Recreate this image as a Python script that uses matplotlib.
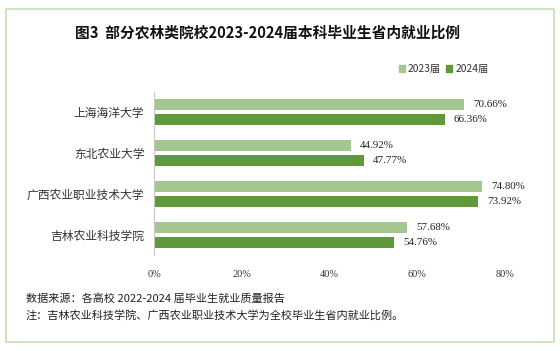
import matplotlib.pyplot as plt
import numpy as np
from matplotlib.patches import Rectangle, Patch

plt.rcParams['font.family'] = ['Noto Sans CJK SC', 'DejaVu Sans']

# Data
schools = ['上海海洋大学', '东北农业大学', '广西农业职业技术大学', '吉林农业科技学院']
rate_2023 = [70.66, 44.92, 74.80, 57.68]
rate_2024 = [66.36, 47.77, 73.92, 54.76]
x_ticks = [0, 20, 40, 60, 80]
series_names = ['2023届', '2024届']

c_light = '#a4c791'
c_dark = '#5f993c'
W, H = 560, 351

fig = plt.figure(figsize=(W / 100, H / 100), dpi=100)

# outer green frame
fig.patches.append(Rectangle((6 / W, 9 / H), 548 / W, 333 / H, transform=fig.transFigure,
                             fill=False, ec='#c5e2b2', lw=1.2))

ax = fig.add_axes([154 / W, 1 - 255 / H, (505 - 154) / W, (255 - 92) / H])

y = np.arange(len(schools))
off = 0.183
h = 0.27
b1 = ax.barh(y - off, rate_2023, height=h, color=c_light)
b2 = ax.barh(y + off, rate_2024, height=h, color=c_dark)

for bars, vals in [(b1, rate_2023), (b2, rate_2024)]:
    for bar, v in zip(bars, vals):
        ax.text(v + 2.0, bar.get_y() + bar.get_height() / 2, f'{v:.2f}%',
                va='center', ha='left', fontsize=7.9, family=['Liberation Serif'],
                color='#222222')

ax.set_ylim(len(schools) - 0.5, -0.5)
ax.set_xlim(0, 80)
ax.set_yticks(y)
ax.set_yticklabels(schools, fontsize=8.5, color='#333333')
ax.tick_params(axis='both', length=0)
ax.set_xticks(x_ticks)
ax.set_xticklabels([f'{t}%' for t in x_ticks], fontsize=7.4, family=['Liberation Serif'],
                   color='#333333')
ax.tick_params(axis='x', pad=11)
ax.tick_params(axis='y', pad=7)
for s in ['top', 'right', 'bottom']:
    ax.spines[s].set_visible(False)
ax.spines['left'].set_color('#c8c8c8')
ax.spines['left'].set_linewidth(0.8)

fig.text(268 / W, 1 - 33 / H, '图3  部分农林类院校2023-2024届本科毕业生省内就业比例',
         ha='center', va='center', fontsize=10.6, fontweight='bold', color='#111111')

handles = [Patch(color=c_light), Patch(color=c_dark)]
fig.legend(handles, series_names, loc='center right', bbox_to_anchor=(498 / W, 1 - 69 / H),
           ncol=2, frameon=False, fontsize=7.4, handlelength=0.6, handleheight=0.6,
           columnspacing=0.5, handletextpad=0.3, labelcolor='#333333')

fig.text(26 / W, 1 - 299 / H, '数据来源：各高校 2022-2024 届毕业生就业质量报告',
         ha='left', va='center', fontsize=8.0, style='italic', color='#222222')
fig.text(26 / W, 1 - 315 / H, '注：吉林农业科技学院、广西农业职业技术大学为全校毕业生省内就业比例。',
         ha='left', va='center', fontsize=8.0, style='italic', color='#222222')

fig.savefig('out.png', dpi=100)
